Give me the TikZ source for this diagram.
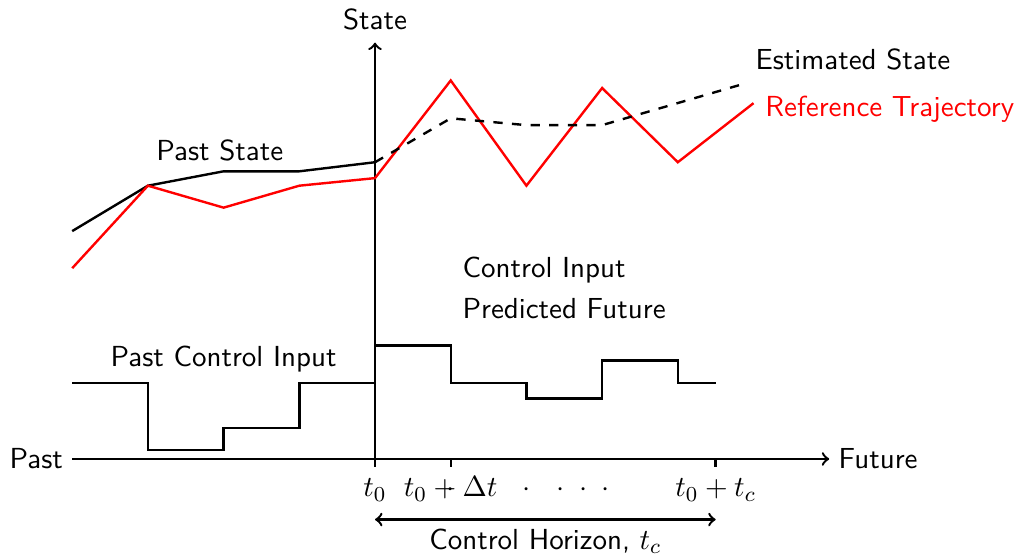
\documentclass[tikz,border=0pt]{standalone}
\begin{document}
\begin{tikzpicture}[x=1cm,y=1cm,font=\fontsize{10.9pt}{13pt}\selectfont\sffamily,
  curve/.style={line width=0.9pt,line join=miter},
  refc/.style={line width=0.9pt,red},
  estc/.style={line width=0.9pt,dash pattern=on 3.5pt off 3.5pt},
  axis/.style={line width=0.9pt,->},
  tick/.style={line width=0.9pt},
  lbl/.style={inner sep=0pt,anchor=base west},
  lblc/.style={inner sep=0pt,anchor=base}]
\useasboundingbox (-4.954,-1.255) rectangle (8.454,6.063);

% axes
\coordinate (xl) at (-4,0);
\coordinate (xr) at (6,0);
\coordinate (yb) at (0,0);
\coordinate (yt) at (0,5.5);
\draw[axis] (xl) -- (xr);
\draw[axis] (yb) -- (yt);
\node[left] (past) at (xl) {Past};
\node[right] (future) at (xr) {Future};
\node[lblc] (state) at (0,5.667) {State};

% ticks
\coordinate (t0a) at (0,0);    \coordinate (t0b) at (0,-0.1);
\coordinate (t1a) at (1,0);    \coordinate (t1b) at (1,-0.1);
\coordinate (tca) at (4.5,0);  \coordinate (tcb) at (4.5,-0.1);
\draw[tick] (t0a) -- (t0b);
\draw[tick] (t1a) -- (t1b);
\draw[tick] (tca) -- (tcb);
\node[lblc] (l0) at (0,-0.5) {$t_0$};
\node[lblc] (l1) at (1,-0.5) {$t_0+\Delta t$};
\node[lblc] (d1) at (1,-0.5) {$\cdot$};
\node[lblc] (d2) at (2,-0.5) {$\cdot$};
\node[lblc] (d3) at (2.75,-0.5) {$\cdot\;\cdot\;\cdot$};
\node[lblc] (lc) at (4.5,-0.5) {$t_0+t_c$};

% control horizon
\coordinate (ha) at (0,-0.8);
\coordinate (hb) at (4.5,-0.8);
\draw[line width=0.9pt,<->] (ha) -- (hb);
\node[lblc] (hz) at (2.25,-1.19) {Control Horizon, $t_c$};

% past state (black)
\coordinate (s1) at (-4,3.01);
\coordinate (s2) at (-3,3.61);
\coordinate (s3) at (-2,3.80);
\coordinate (s4) at (-1,3.80);
\coordinate (s5) at (0,3.92);
\draw[curve] (s1) -- (s2) -- (s3) -- (s4) -- (s5);

% reference trajectory (red)
\coordinate (r1) at (-4,2.52);
\coordinate (r2) at (-3,3.61);
\coordinate (r3) at (-2,3.32);
\coordinate (r4) at (-1,3.61);
\coordinate (r5) at (0,3.71);
\coordinate (r6) at (1,5.0);
\coordinate (r7) at (2,3.61);
\coordinate (r8) at (3,4.9);
\coordinate (r9) at (4,3.92);
\coordinate (r10) at (5,4.7);
\draw[refc] (r1) -- (r2) -- (r3) -- (r4) -- (r5) -- (r6) -- (r7) -- (r8) -- (r9) -- (r10);

% estimated state (dashed)
\coordinate (e1) at (1,4.5);
\coordinate (e2) at (2,4.41);
\coordinate (e3) at (3,4.41);
\coordinate (e4) at (4.92,4.97);
\draw[estc] (s5) -- (e1) -- (e2) -- (e3) -- (e4);

% labels
\node[lbl] (est) at (5.02,5.14) {Estimated State};
\node[lbl,text=red] (ref) at (5.15,4.53) {Reference Trajectory};
\node[lblc] (ps) at (-2.05,3.94) {Past State};
\node[lblc] (pci) at (-2.0,1.22) {Past Control Input};
\node[lbl] (ci) at (1.15,2.40) {Control Input};
\node[lbl] (pf) at (1.15,1.86) {Predicted Future};

% control input
\coordinate (u0) at (-4,1);
\coordinate (u1) at (-3,1);
\coordinate (u2) at (-3,0.12);
\coordinate (u3) at (-2,0.12);
\coordinate (u4) at (-2,0.41);
\coordinate (u5) at (-1,0.41);
\coordinate (u6) at (-1,1);
\coordinate (u7) at (0,1);
\draw[curve] (u0) -- (u1) -- (u2) -- (u3) -- (u4) -- (u5) -- (u6) -- (u7);
\coordinate (f0) at (0,1.5);
\coordinate (f1) at (1,1.5);
\coordinate (f2) at (1,1);
\coordinate (f3) at (2,1);
\coordinate (f4) at (2,0.8);
\coordinate (f5) at (3,0.8);
\coordinate (f6) at (3,1.3);
\coordinate (f7) at (4,1.3);
\coordinate (f8) at (4,1);
\coordinate (f9) at (4.5,1);
\draw[curve] (f0) -- (f1) -- (f2) -- (f3) -- (f4) -- (f5) -- (f6) -- (f7) -- (f8) -- (f9);
\end{tikzpicture}
\end{document}
